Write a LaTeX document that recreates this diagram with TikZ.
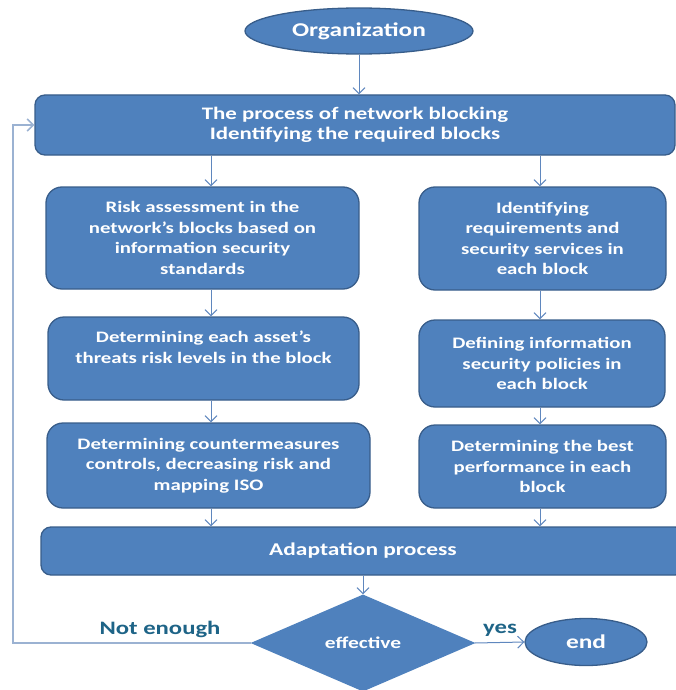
\documentclass[tikz,border=0pt]{standalone}
\usepackage{fontspec}
\setmainfont{Carlito}[FakeStretch=1.3]
\usetikzlibrary{shapes.geometric,arrows.meta}
\definecolor{boxfill}{RGB}{79,129,189}
\definecolor{boxline}{RGB}{56,93,138}
\definecolor{arrowc}{RGB}{95,135,190}
\definecolor{fbc}{RGB}{155,178,210}
\definecolor{labc}{RGB}{30,100,135}
\begin{document}
\begin{tikzpicture}[x=1pt,y=-1pt,
  base/.style={draw=boxline, line width=1.3pt, fill=boxfill, text=white, align=center, inner sep=0pt},
  box/.style={base, rounded corners=16pt, font=\bfseries\fontsize{16}{20.5}\selectfont},
  wide/.style={base, rounded corners=10pt, font=\bfseries\fontsize{17.6}{19.5}\selectfont},
  oval/.style={base, ellipse, font=\bfseries\fontsize{19.5}{21}\selectfont},
  dia/.style={base, diamond, draw=boxfill, font=\bfseries\fontsize{16.5}{18}\selectfont},
  arr/.style={draw=arrowc, line width=1pt, -{Straight Barb[length=6pt,width=12pt]}},
  fbline/.style={draw=fbc, line width=1.6pt, -{Straight Barb[length=6pt,width=12pt]}},
  lab/.style={text=labc, font=\bfseries\fontsize{19}{21}\selectfont, inner sep=0pt}]
\useasboundingbox (0,0) rectangle (676,690);
\coordinate (cl) at (211,0);
\coordinate (cr) at (540,0);
\coordinate (fb) at (13,0);

\node[oval, minimum width=228pt, minimum height=46pt] (org) at (359,31) {Organization};
\node[wide, minimum width=640pt, minimum height=60pt] (top) at (355,125)
  {The process of network blocking\\Identifying the required blocks};

\node[box, minimum width=313pt, minimum height=102pt] (L1) at (202.5,238)
  {Risk assessment in the\\network’s blocks based on\\information security\\standards};
\node[box, minimum width=247pt, minimum height=103pt] (R1) at (542.5,238.5)
  {Identifying\\requirements and\\security services in\\each block};
\node[box, minimum width=311pt, minimum height=83pt] (L2) at (203.5,358.5)
  {Determining each asset’s\\threats risk levels in the block\\[2pt]};
\node[box, minimum width=246pt, minimum height=87pt] (R2) at (542,363.5)
  {Defining information\\security policies in\\each block};
\node[box, minimum width=323pt, minimum height=85pt] (L3) at (208.5,465.5)
  {Determining countermeasures\\controls, decreasing risk and\\mapping ISO};
\node[box, minimum width=247pt, minimum height=83pt] (R3) at (542.5,466.5)
  {Determining the best\\performance in each\\block};
\node[wide, font=\bfseries\fontsize{18}{20}\selectfont, minimum width=644pt, minimum height=48pt] (adapt) at (363,551) {Adaptation process};
\node[dia, minimum width=222pt, minimum height=96pt] (dec) at (363,643) {effective};
\node[oval, minimum width=122pt, minimum height=47pt] (end) at (586,642) {end};

\node[lab] (ne) at (160,629) {Not enough};
\node[lab] (yes) at (500,630) {yes};

\draw[arr] (org.south) -- (org.south |- top.north);
\draw[arr] (top.south -| cl) -- (L1.north -| cl);
\draw[arr] (top.south -| cr) -- (R1.north -| cr);
\draw[arr] (L1.south -| cl) -- (L2.north -| cl);
\draw[arr] (R1.south -| cr) -- (R2.north -| cr);
\draw[arr] (L2.south -| cl) -- (L3.north -| cl);
\draw[arr] (R2.south -| cr) -- (R3.north -| cr);
\draw[arr] (L3.south -| cl) -- (adapt.north -| cl);
\draw[arr] (R3.south -| cr) -- (adapt.north -| cr);
\draw[arr] (adapt.south -| dec) -- (dec.north);
\draw[arr] (dec.east) -- (end.west);
\draw[fbline] (dec.west) -| (fb |- top.west) -- (top.west);
\end{tikzpicture}
\end{document}
